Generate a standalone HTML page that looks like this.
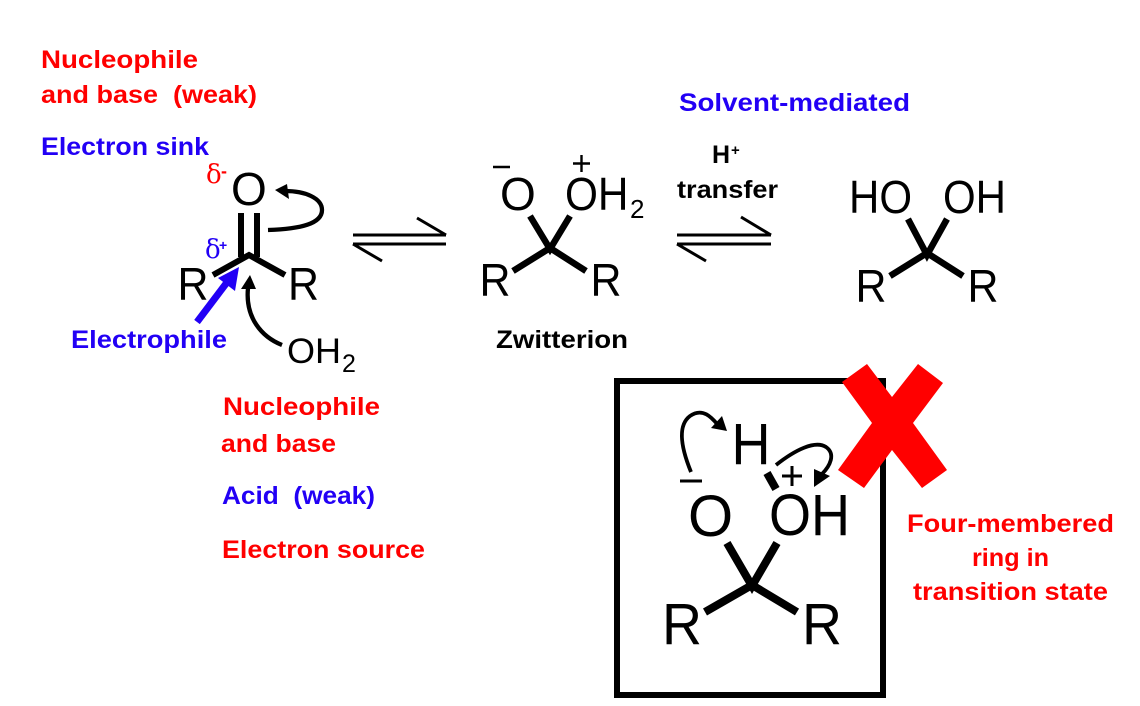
<!DOCTYPE html>
<html><head><meta charset="utf-8"><style>
html,body{margin:0;padding:0;background:#fff}
svg{display:block}
.l{font:bold 25px "Liberation Sans",sans-serif}
.r{fill:#ff0000}.b{fill:#2200f5}.k{fill:#000}
.c{font-family:"Liberation Sans",sans-serif;fill:#000}
</style></head><body>
<svg width="1140" height="706" viewBox="0 0 1140 706" xmlns="http://www.w3.org/2000/svg">
<rect width="1140" height="706" fill="#fff"/>
<!-- labels -->
<text class="l r" x="41" y="68" textLength="157" lengthAdjust="spacingAndGlyphs">Nucleophile</text>
<text class="l r" x="41" y="103" textLength="216" lengthAdjust="spacingAndGlyphs" xml:space="preserve">and base  (weak)</text>
<text class="l b" x="41" y="155" textLength="168" lengthAdjust="spacingAndGlyphs">Electron sink</text>
<text class="l b" x="679" y="111" textLength="231" lengthAdjust="spacingAndGlyphs">Solvent-mediated</text>
<text class="l b" x="71" y="348" textLength="156" lengthAdjust="spacingAndGlyphs">Electrophile</text>
<text class="l k" x="496" y="348" textLength="132" lengthAdjust="spacingAndGlyphs">Zwitterion</text>
<text class="l r" x="223" y="415" textLength="157" lengthAdjust="spacingAndGlyphs">Nucleophile</text>
<text class="l r" x="221" y="452" textLength="115" lengthAdjust="spacingAndGlyphs">and base</text>
<text class="l b" x="222" y="504" textLength="153" lengthAdjust="spacingAndGlyphs" xml:space="preserve">Acid  (weak)</text>
<text class="l r" x="222" y="558" textLength="203" lengthAdjust="spacingAndGlyphs">Electron source</text>
<text class="l r" x="907" y="532" textLength="207" lengthAdjust="spacingAndGlyphs">Four-membered</text>
<text class="l r" x="972" y="566" textLength="77" lengthAdjust="spacingAndGlyphs">ring in</text>
<text class="l r" x="913" y="600" textLength="195" lengthAdjust="spacingAndGlyphs">transition state</text>
<text class="l k" x="712" y="163">H</text>
<text x="731" y="155" style="font:bold 15px 'Liberation Sans',sans-serif" class="k">+</text>
<text class="l k" x="677" y="198" textLength="101" lengthAdjust="spacingAndGlyphs">transfer</text>

<!-- carbonyl -->
<g class="c" font-size="46">
<text x="231" y="205">O</text>
<text x="177.500" y="300" textLength="31" lengthAdjust="spacingAndGlyphs">R</text>
<text x="288" y="300" textLength="31" lengthAdjust="spacingAndGlyphs">R</text>
</g>
<text class="c" x="287" y="363" font-size="35" textLength="54" lengthAdjust="spacingAndGlyphs">OH</text>
<text class="c" x="342" y="372" font-size="25">2</text>
<g stroke="#000" stroke-width="6" fill="none">
<path d="M241 213V257M257 213V257"/>
<path d="M213 275L249 255L285 275"/>
</g>
<text x="206" y="183" font-family="'DejaVu Serif','Liberation Serif',serif" font-size="26" fill="#f00">δ</text>
<text x="221" y="177" font-family="'Liberation Sans',sans-serif" font-weight="bold" font-size="18" fill="#f00">-</text>
<text x="205" y="258" font-family="'DejaVu Serif','Liberation Serif',serif" font-size="26" fill="#2200f5">δ</text>
<text x="219" y="250" font-family="'Liberation Sans',sans-serif" font-weight="bold" font-size="14" fill="#2200f5">+</text>
<path d="M268 230C300 229 322 224 322 210C322 198 305 191 285 191" stroke="#000" stroke-width="4.300" fill="none"/>
<path d="M275 190L287 184L289 199Z" fill="#000"/>
<path d="M197 322L228 281" stroke="#2200f5" stroke-width="7" fill="none"/>
<path d="M239 267L235 291L218 278Z" fill="#2200f5"/>
<path d="M282 345C262 337 245 318 248 288" stroke="#000" stroke-width="4.300" fill="none"/>
<path d="M250 275L256 289L241 289Z" fill="#000"/>

<!-- equilibrium arrows -->
<g stroke="#000" stroke-width="3" fill="none">
<path d="M353 235H446M417 218L446 235"/>
<path d="M446 244H353M353 244L382 261"/>
<path d="M677 235H771M741 217L771 235"/>
<path d="M771 244H677M677 244L706 261"/>
</g>

<!-- zwitterion -->
<g class="c" font-size="46">
<text x="500" y="210">O</text>
<text x="565" y="210" textLength="63.500" lengthAdjust="spacingAndGlyphs">OH</text>
<text x="479.500" y="296" textLength="31" lengthAdjust="spacingAndGlyphs">R</text>
<text x="590.500" y="296" textLength="31" lengthAdjust="spacingAndGlyphs">R</text>
</g>
<text class="c" x="630" y="218" font-size="26">2</text>
<path d="M493 167H510M581.500 155V172M573 163.500H590" stroke="#000" stroke-width="2.400" fill="none"/>
<g stroke="#000" stroke-width="6.500" fill="none">
<path d="M530 216L550 249L570 216"/>
<path d="M513 271L550 248L586 271"/>
</g>

<!-- diol -->
<g class="c" font-size="46">
<text x="849" y="213" textLength="63" lengthAdjust="spacingAndGlyphs">HO</text>
<text x="943" y="213" textLength="63" lengthAdjust="spacingAndGlyphs">OH</text>
<text x="855.500" y="302" textLength="31" lengthAdjust="spacingAndGlyphs">R</text>
<text x="967.500" y="302" textLength="31" lengthAdjust="spacingAndGlyphs">R</text>
</g>
<g stroke="#000" stroke-width="6.500" fill="none">
<path d="M908 219L927 255L947 219"/>
<path d="M890 276L927 253L963 276"/>
</g>

<!-- box -->
<rect x="617" y="381" width="266" height="314" fill="none" stroke="#000" stroke-width="6"/>
<g class="c" font-size="58">
<text x="731.500" y="464" textLength="39" lengthAdjust="spacingAndGlyphs">H</text>
<text x="688" y="536">O</text>
<text x="769" y="535" textLength="81" lengthAdjust="spacingAndGlyphs">OH</text>
<text x="662" y="644" textLength="40" lengthAdjust="spacingAndGlyphs">R</text>
<text x="802" y="644" textLength="40" lengthAdjust="spacingAndGlyphs">R</text>
</g>
<g stroke="#000" stroke-width="8" fill="none">
<path d="M727 543L752 586L777 543"/>
<path d="M705 612L752 585L797 612"/>
<path d="M767 473L776 489"/>
</g>
<path d="M680 481H702M792 466V486M782 476H802" stroke="#000" stroke-width="3" fill="none"/>
<path d="M691 472C680 445 678 425 690 416C703 407 712 418 718 425" stroke="#000" stroke-width="3.800" fill="none"/>
<path d="M727 431L711 428L722 416Z" fill="#000"/>
<path d="M776 465C795 450 815 440 826 447C836 454 830 466 822 474" stroke="#000" stroke-width="3.800" fill="none"/>
<path d="M814 487L814 469L830 476Z" fill="#000"/>

<!-- red X -->
<path d="M867 364L892 397L918 364L943 383L913 423L947 470L922 488L892 450L864 488L838 470L872 423L842 382Z" fill="#f00"/>
</svg>
</body></html>
